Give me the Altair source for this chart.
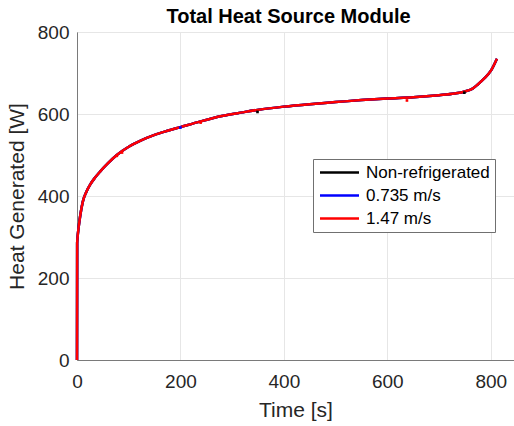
import altair as alt
import pandas as pd

# Heat generated by the source module over time (the three cases coincide)
time_s = [0, 0.3, 1, 3, 6, 11, 18, 26, 35, 45, 60, 77, 100, 123, 150, 175, 200,
          239, 280, 320, 349, 400, 450, 500, 550, 600, 650, 700, 730, 750, 765,
          775, 787, 800, 812]
heat_w = [0, 285, 298, 322, 350, 385, 410, 429, 445, 460, 480, 500, 520, 535,
          549, 559, 568, 582, 595, 604, 610, 618, 624, 629, 634, 638, 641, 646,
          650, 655, 662, 672, 686, 705, 735]

series = ["Non-refrigerated", "0.735 m/s", "1.47 m/s"]
colors = ["#000000", "#0000ff", "#ff0000"]

# Isolated sample markers left on the curves
marker_series = ["1.47 m/s", "1.47 m/s", "0.735 m/s", "1.47 m/s",
                 "Non-refrigerated", "1.47 m/s", "Non-refrigerated"]
marker_time = [77, 87, 200, 239, 349, 638, 749]
marker_heat = [498, 506, 567, 579, 605, 633, 652]

rows = []
for order, name in enumerate(series):
    for t, h in zip(time_s, heat_w):
        rows.append({"Time": t, "Heat": h, "Case": name, "order": order})
df = pd.DataFrame(rows)

markers = pd.DataFrame({"Time": marker_time, "Heat": marker_heat,
                        "Case": marker_series})

FONT = "Liberation Sans"

x_scale = alt.Scale(domain=[0, 845], nice=False, zero=False)
y_scale = alt.Scale(domain=[0, 800], nice=False)
color_scale = alt.Scale(domain=series, range=colors)

x_axis = alt.Axis(values=[0, 200, 400, 600, 800], title="Time [s]",
                  grid=True, ticks=False, labelPadding=12, titlePadding=8,
                  labelFlush=False)
y_axis = alt.Axis(values=[0, 200, 400, 600, 800], title="Heat Generated [W]",
                  grid=True, ticks=False, labelPadding=8, titlePadding=10,
                  labelFlush=False)

lines = alt.Chart(df).mark_line(strokeWidth=2.5, interpolate="monotone").encode(
    x=alt.X("Time:Q", scale=x_scale, axis=x_axis),
    y=alt.Y("Heat:Q", scale=y_scale, axis=y_axis),
    color=alt.Color(
        "Case:N", scale=color_scale, sort=series,
        legend=alt.Legend(
            title=None, orient="none", legendX=236, legendY=127,
            symbolType="M-1,0H5", symbolSize=169, symbolStrokeWidth=2.5,
            labelOffset=31, labelFontSize=17, labelFont=FONT,
            labelColor="#000000", rowPadding=5, padding=5,
            strokeColor="#707070", fillColor="#ffffff",
        ),
    ),
    order=alt.Order("order:Q"),
    detail="Case:N",
)

dots = alt.Chart(markers).mark_square(size=7, opacity=1).encode(
    x=alt.X("Time:Q", scale=x_scale),
    y=alt.Y("Heat:Q", scale=y_scale),
    color=alt.Color("Case:N", scale=color_scale, legend=None),
)

chart = alt.layer(lines, dots).properties(
    width=437,
    height=328,
    background="#ffffff",
    autosize=alt.AutoSizeParams(type="none"),
    padding={"left": 77, "top": 32, "right": 0, "bottom": 66},
    title=alt.TitleParams(
        "Total Heat Source Module", fontSize=20, fontWeight="bold", font=FONT,
        color="#000000", anchor="middle", frame="group", offset=6, dx=-7,
        dy=10,
    ),
).configure_view(
    stroke="#7a7a7a", strokeWidth=1,
).configure_axis(
    domainColor="#7a7a7a", gridColor="#e6e6e6", gridWidth=1,
    labelFont=FONT, labelFontSize=19, labelColor="#262626",
    titleFont=FONT, titleFontSize=21, titleColor="#262626",
    titleFontWeight="normal",
)

chart.save("out.html", embed_options={"renderer": "svg", "actions": False})
